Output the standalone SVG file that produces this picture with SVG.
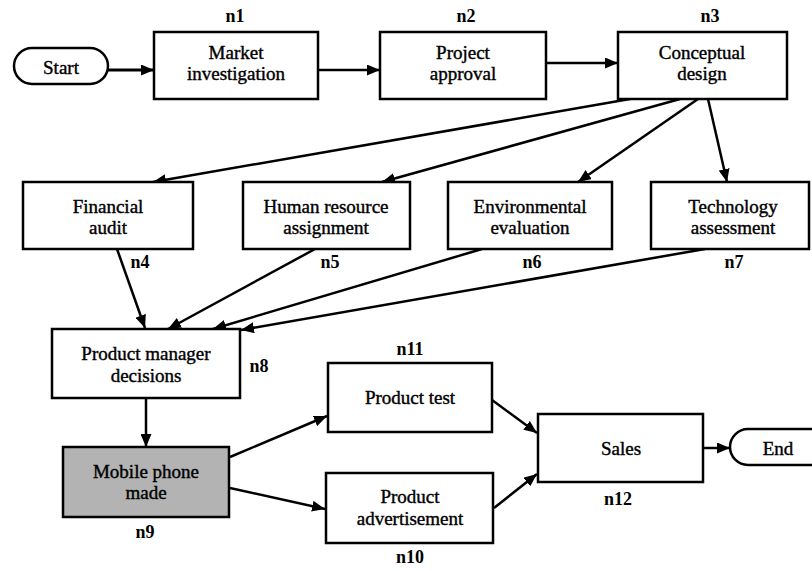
<svg xmlns="http://www.w3.org/2000/svg" width="812" height="571" viewBox="0 0 812 571">
<style>
.box{fill:#fff;stroke:#000;stroke-width:2.5}
.gray{fill:#b3b3b3}
.t{font-family:'Liberation Serif','DejaVu Serif',serif;font-size:19px;text-anchor:middle;fill:#000;stroke:#000;stroke-width:0.4}
.lbl{font-family:'Liberation Serif','DejaVu Serif',serif;font-size:18px;font-weight:bold;text-anchor:middle;fill:#000}
.c{stroke:#000;stroke-width:2.5;fill:none;marker-end:url(#ah)}
</style>
<defs>
<marker id="ah" viewBox="0 0 13 11" refX="13" refY="5.5" markerWidth="13" markerHeight="11" markerUnits="userSpaceOnUse" orient="auto">
<path d="M0,0 L13,5.5 L0,11 Z" fill="#000"/>
</marker>
</defs>
<rect width="812" height="571" fill="#fff"/>
<g id="connectors">
<line class="c" x1="108" y1="70" x2="154" y2="70" style="stroke-width:3"/>
<line class="c" x1="318" y1="70" x2="380" y2="70"/>
<line class="c" x1="546" y1="63" x2="618" y2="63"/>
<line class="c" x1="630" y1="99" x2="153" y2="182"/>
<line class="c" x1="680" y1="99" x2="382" y2="182"/>
<line class="c" x1="698" y1="99" x2="578" y2="182"/>
<line class="c" x1="708" y1="99" x2="727" y2="182"/>
<line class="c" x1="117" y1="249" x2="145" y2="328"/>
<line class="c" x1="315" y1="249" x2="168" y2="329"/>
<line class="c" x1="482" y1="249" x2="213" y2="329"/>
<line class="c" x1="705" y1="249" x2="241" y2="330"/>
<line class="c" x1="146" y1="398" x2="146" y2="447"/>
<line class="c" x1="230" y1="457" x2="327" y2="416"/>
<line class="c" x1="230" y1="488" x2="325" y2="509"/>
<line class="c" x1="492" y1="400" x2="537" y2="433"/>
<line class="c" x1="494" y1="508" x2="537" y2="474"/>
<line class="c" x1="703" y1="448" x2="730" y2="448"/>
</g>
<g id="start">
<rect class="box" x="14" y="48" width="94" height="36" rx="18"/>
<text class="t" x="61" y="74">Start</text>
</g>
<g id="n1">
<rect class="box" x="154" y="32" width="164" height="67"/>
<text class="t" x="236" y="59">Market</text>
<text class="t" x="236" y="80">investigation</text>
<text class="lbl" x="235" y="22">n1</text>
</g>
<g id="n2">
<rect class="box" x="380" y="32" width="166" height="67"/>
<text class="t" x="463" y="59">Project</text>
<text class="t" x="463" y="80">approval</text>
<text class="lbl" x="466" y="22">n2</text>
</g>
<g id="n3">
<rect class="box" x="618" y="32" width="169" height="67"/>
<text class="t" x="702" y="59">Conceptual</text>
<text class="t" x="702" y="80">design</text>
<text class="lbl" x="710" y="22">n3</text>
</g>
<g id="n4">
<rect class="box" x="23" y="182" width="170" height="67"/>
<text class="t" x="108" y="213">Financial</text>
<text class="t" x="108" y="234">audit</text>
<text class="lbl" x="140" y="268">n4</text>
</g>
<g id="n5">
<rect class="box" x="243" y="182" width="167" height="67"/>
<text class="t" x="326" y="213">Human resource</text>
<text class="t" x="326" y="234">assignment</text>
<text class="lbl" x="330" y="268">n5</text>
</g>
<g id="n6">
<rect class="box" x="448" y="182" width="164" height="67"/>
<text class="t" x="530" y="213">Environmental</text>
<text class="t" x="530" y="234">evaluation</text>
<text class="lbl" x="532" y="268">n6</text>
</g>
<g id="n7">
<rect class="box" x="651" y="182" width="158" height="67"/>
<text class="t" x="733" y="213">Technology</text>
<text class="t" x="733" y="234">assessment</text>
<text class="lbl" x="734" y="268">n7</text>
</g>
<g id="n8">
<rect class="box" x="52" y="329" width="188" height="69"/>
<text class="t" x="146" y="360">Product manager</text>
<text class="t" x="146" y="382">decisions</text>
<text class="lbl" x="259" y="372">n8</text>
</g>
<g id="n9">
<rect class="box gray" x="63" y="447" width="166" height="70"/>
<text class="t" x="146" y="478">Mobile phone</text>
<text class="t" x="146" y="499">made</text>
<text class="lbl" x="145" y="538">n9</text>
</g>
<g id="n11">
<rect class="box" x="328" y="363" width="164" height="69"/>
<text class="t" x="410" y="404">Product test</text>
<text class="lbl" x="410" y="355">n11</text>
</g>
<g id="n10">
<rect class="box" x="326" y="473" width="167" height="70"/>
<text class="t" x="410" y="503">Product</text>
<text class="t" x="410" y="525">advertisement</text>
<text class="lbl" x="410" y="563">n10</text>
</g>
<g id="n12">
<rect class="box" x="538" y="414" width="165" height="68"/>
<text class="t" x="621" y="455">Sales</text>
<text class="lbl" x="618" y="505">n12</text>
</g>
<g id="end">
<rect class="box" x="730" y="429" width="100" height="36" rx="18"/>
<text class="t" x="778" y="455">End</text>
</g>
</svg>
